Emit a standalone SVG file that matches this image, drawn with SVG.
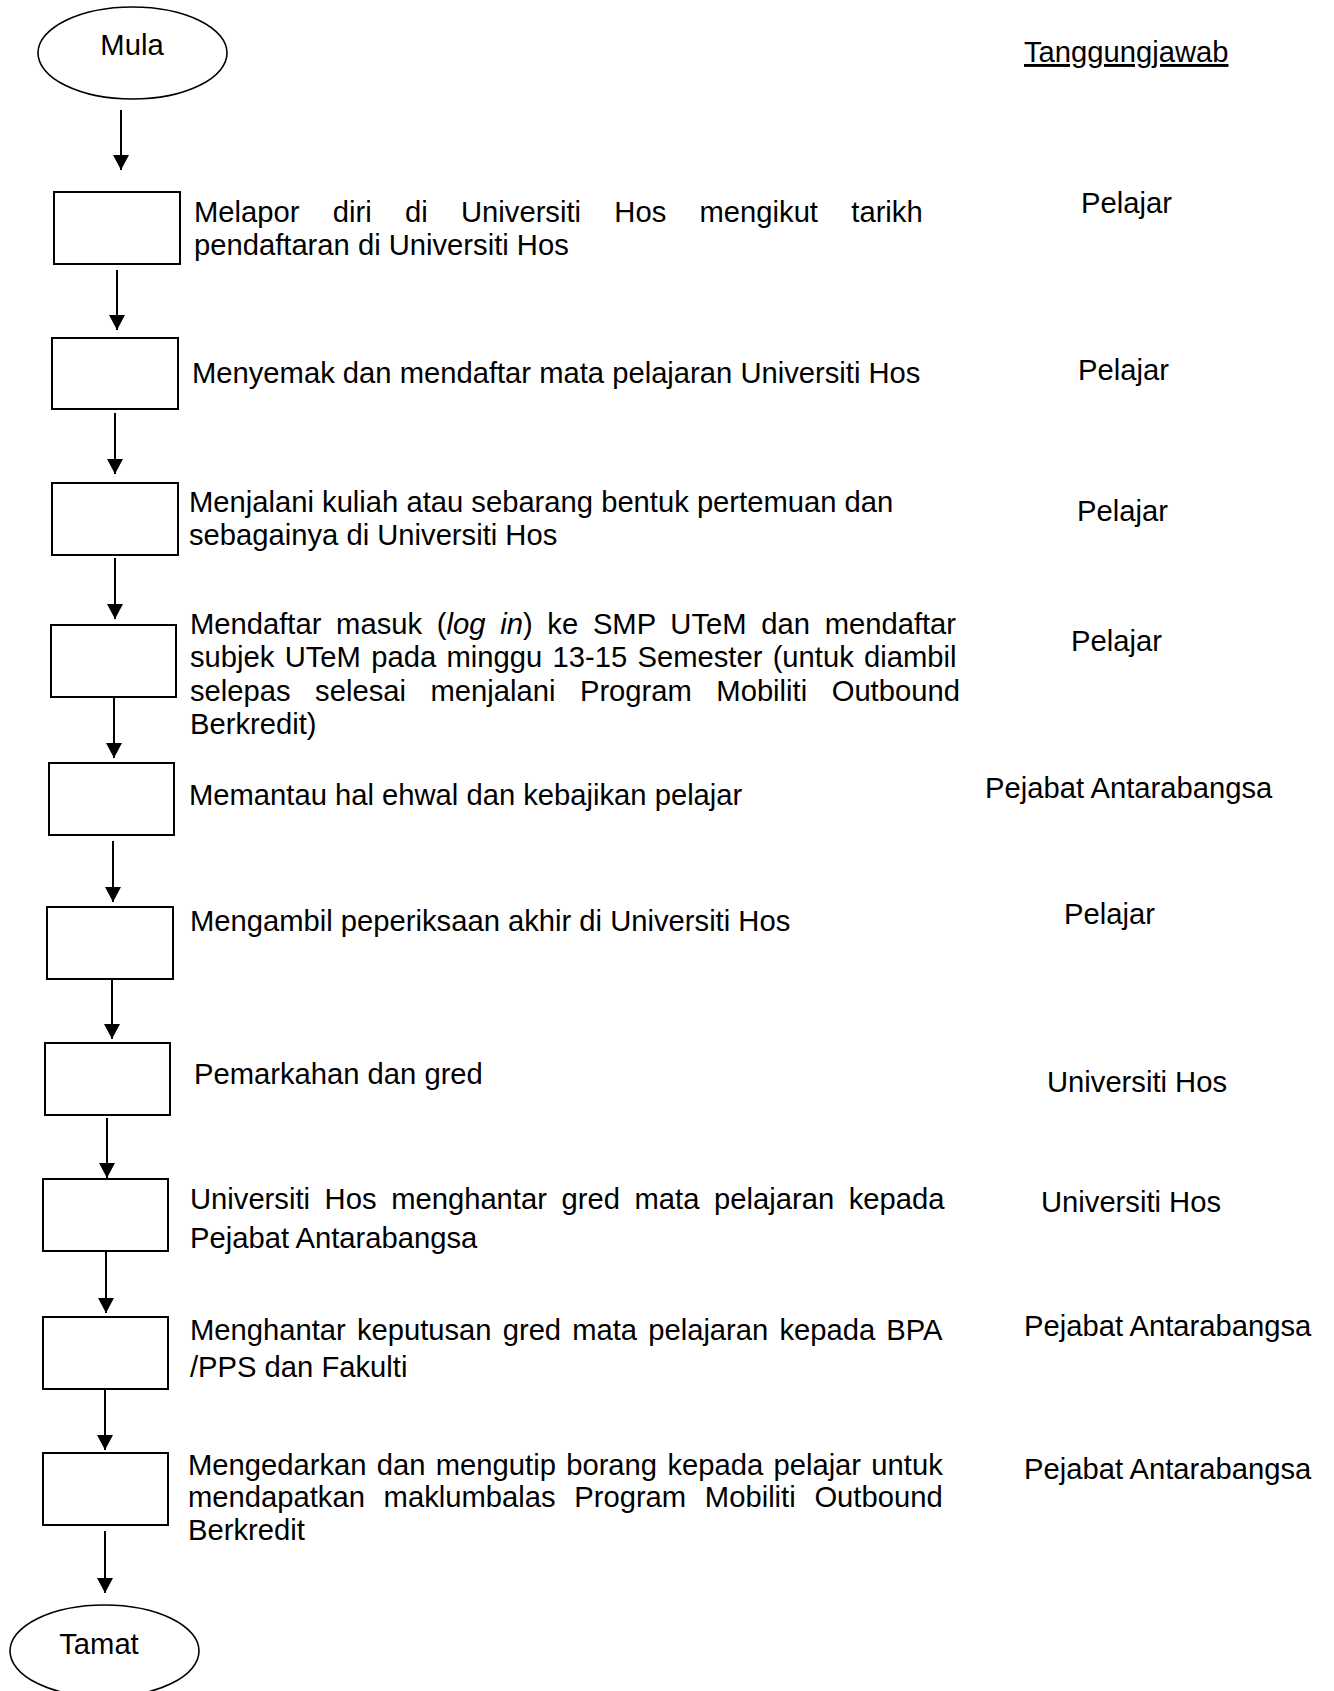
<svg xmlns="http://www.w3.org/2000/svg" width="1334" height="1691" viewBox="0 0 1334 1691">
<style>
  text { font-family: "Liberation Sans", Arial, sans-serif; font-size: 29.2px; fill: #000; }
  .box { fill: #fff; stroke: #000; stroke-width: 2; }
  .term { fill: #fff; stroke: #000; stroke-width: 1.6; }
  .conn line { stroke: #000; stroke-width: 2; marker-end: url(#arrow); }
  .mid { text-anchor: middle; }
</style>
<defs>
  <marker id="arrow" markerUnits="userSpaceOnUse" markerWidth="16" markerHeight="16" refX="15" refY="8" orient="auto">
    <path d="M0,0 L15,8 L0,16 z" fill="#000"/>
  </marker>
</defs>
<rect width="1334" height="1691" fill="#fff"/>

<g id="start">
  <ellipse class="term" cx="132.5" cy="53" rx="94.5" ry="46"/>
  <text class="mid" x="132" y="55">Mula</text>
</g>

<text id="header" x="1024" y="62" text-decoration="underline">Tanggungjawab</text>

<g id="step1">
  <rect class="box" x="54" y="192" width="126" height="72"/>
  <text x="194" y="222" word-spacing="25.2">Melapor diri di Universiti Hos mengikut tarikh</text>
  <text x="194" y="255">pendaftaran di Universiti Hos</text>
  <text x="1081" y="213">Pelajar</text>
</g>

<g id="step2">
  <rect class="box" x="52" y="338" width="126" height="71"/>
  <text x="192" y="383">Menyemak dan mendaftar mata pelajaran Universiti Hos</text>
  <text x="1078" y="380">Pelajar</text>
</g>

<g id="step3">
  <rect class="box" x="52" y="483" width="126" height="72"/>
  <text x="189" y="512">Menjalani kuliah atau sebarang bentuk pertemuan dan</text>
  <text x="189" y="545">sebagainya di Universiti Hos</text>
  <text x="1077" y="521">Pelajar</text>
</g>

<g id="step4">
  <rect class="box" x="51" y="625" width="125" height="72"/>
  <text x="190" y="634" word-spacing="6.6">Mendaftar masuk (<tspan font-style="italic">log in</tspan>) ke SMP UTeM dan mendaftar</text>
  <text x="190" y="667" word-spacing="2.2">subjek UTeM pada minggu 13-15 Semester (untuk diambil</text>
  <text x="190" y="701" word-spacing="16.4">selepas selesai menjalani Program Mobiliti Outbound</text>
  <text x="190" y="734">Berkredit)</text>
  <text x="1071" y="651">Pelajar</text>
</g>

<g id="step5">
  <rect class="box" x="49" y="763" width="125" height="72"/>
  <text x="189" y="805">Memantau hal ehwal dan kebajikan pelajar</text>
  <text x="985" y="798">Pejabat Antarabangsa</text>
</g>

<g id="step6">
  <rect class="box" x="47" y="907" width="126" height="72"/>
  <text x="190" y="931">Mengambil peperiksaan akhir di Universiti Hos</text>
  <text x="1064" y="924">Pelajar</text>
</g>

<g id="step7">
  <rect class="box" x="45" y="1043" width="125" height="72"/>
  <text x="194" y="1084">Pemarkahan dan gred</text>
  <text x="1047" y="1092">Universiti Hos</text>
</g>

<g id="step8">
  <rect class="box" x="43" y="1179" width="125" height="72"/>
  <text x="190" y="1209" word-spacing="6.5">Universiti Hos menghantar gred mata pelajaran kepada</text>
  <text x="190" y="1248">Pejabat Antarabangsa</text>
  <text x="1041" y="1212">Universiti Hos</text>
</g>

<g id="step9">
  <rect class="box" x="43" y="1317" width="125" height="72"/>
  <text x="190" y="1340" word-spacing="3.0">Menghantar keputusan gred mata pelajaran kepada BPA</text>
  <text x="190" y="1377">/PPS dan Fakulti</text>
  <text x="1024" y="1336">Pejabat Antarabangsa</text>
</g>

<g id="step10">
  <rect class="box" x="43" y="1453" width="125" height="72"/>
  <text x="188" y="1475" word-spacing="2.2">Mengedarkan dan mengutip borang kepada pelajar untuk</text>
  <text x="188" y="1507" word-spacing="10.6">mendapatkan maklumbalas Program Mobiliti Outbound</text>
  <text x="188" y="1540">Berkredit</text>
  <text x="1024" y="1479">Pejabat Antarabangsa</text>
</g>

<g id="end">
  <ellipse class="term" cx="104.5" cy="1651" rx="94.5" ry="46"/>
  <text class="mid" x="99" y="1654">Tamat</text>
</g>

<g id="connectors" class="conn">
  <line x1="121" y1="110" x2="121" y2="170"/>
  <line x1="117" y1="270" x2="117" y2="330"/>
  <line x1="115" y1="413" x2="115" y2="474"/>
  <line x1="115" y1="558" x2="115" y2="619"/>
  <line x1="114" y1="698" x2="114" y2="758"/>
  <line x1="113" y1="841" x2="113" y2="902"/>
  <line x1="112" y1="979" x2="112" y2="1039"/>
  <line x1="107" y1="1118" x2="107" y2="1178"/>
  <line x1="106" y1="1251" x2="106" y2="1313"/>
  <line x1="105" y1="1389" x2="105" y2="1450"/>
  <line x1="105" y1="1531" x2="105" y2="1593"/>
</g>
</svg>
